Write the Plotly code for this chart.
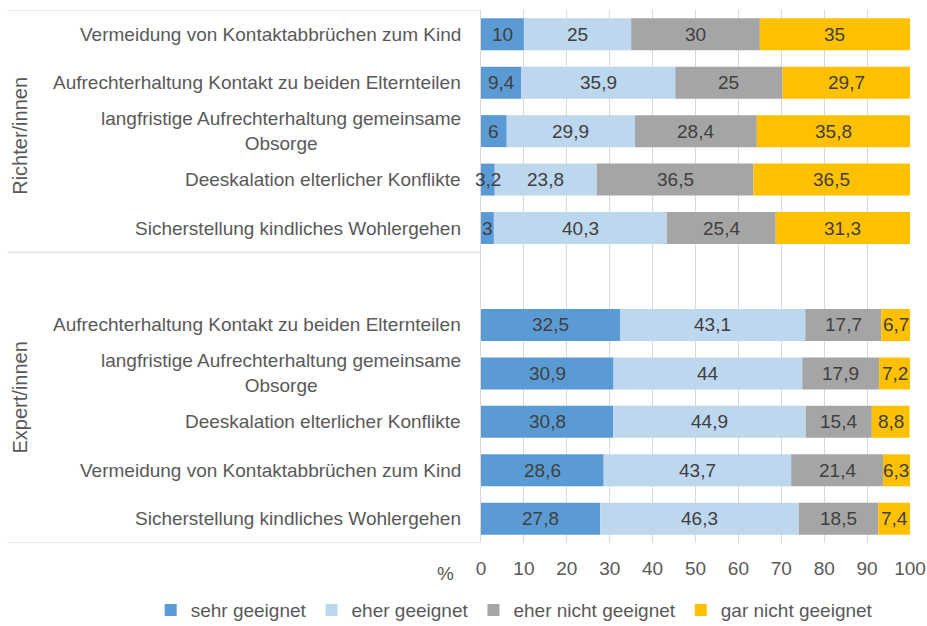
import plotly.graph_objects as go

series_names = ["sehr geeignet", "eher geeignet", "eher nicht geeignet", "gar nicht geeignet"]
series_colors = ["#5b9bd5", "#bdd7ee", "#a5a5a5", "#ffc000"]

group_names = ["Richter/innen", "Expert/innen"]

richter_items = [
    "Vermeidung von Kontaktabbrüchen zum Kind",
    "Aufrechterhaltung Kontakt zu beiden Elternteilen",
    "langfristige Aufrechterhaltung gemeinsame<br>Obsorge",
    "Deeskalation elterlicher Konflikte",
    "Sicherstellung kindliches Wohlergehen",
]
richter_sehr = [10, 9.4, 6, 3.2, 3]
richter_eher = [25, 35.9, 29.9, 23.8, 40.3]
richter_ehernicht = [30, 25, 28.4, 36.5, 25.4]
richter_gar = [35, 29.7, 35.8, 36.5, 31.3]

expert_items = [
    "Aufrechterhaltung Kontakt zu beiden Elternteilen",
    "langfristige Aufrechterhaltung gemeinsame<br>Obsorge",
    "Deeskalation elterlicher Konflikte",
    "Vermeidung von Kontaktabbrüchen zum Kind",
    "Sicherstellung kindliches Wohlergehen",
]
expert_sehr = [32.5, 30.9, 30.8, 28.6, 27.8]
expert_eher = [43.1, 44, 44.9, 43.7, 46.3]
expert_ehernicht = [17.7, 17.9, 15.4, 21.4, 18.5]
expert_gar = [6.7, 7.2, 8.8, 6.3, 7.4]

x_ticks = [0, 10, 20, 30, 40, 50, 60, 70, 80, 90, 100]

FONT = "Liberation Sans, Arial, sans-serif"
TXT = "#595959"
LBL = "#404040"

# slot positions: richter 0..4, blank 5, expert 6..10
richter_pos = list(range(len(richter_items)))
expert_pos = [len(richter_items) + 1 + i for i in range(len(expert_items))]

def fmt(v):
    return f"{v:g}".replace(".", ",")

fig = go.Figure()
series_vals = [
    richter_sehr + expert_sehr,
    richter_eher + expert_eher,
    richter_ehernicht + expert_ehernicht,
    richter_gar + expert_gar,
]
ypos = richter_pos + expert_pos
annotations = []
base = [0.0] * len(ypos)
for name, color, vals in zip(series_names, series_colors, series_vals):
    fig.add_trace(go.Bar(
        name=name, x=vals, y=ypos, base=list(base), orientation="h",
        marker=dict(color=color, line=dict(width=0)),
        cliponaxis=False, hoverinfo="x+name",
    ))
    for i, (v, p) in enumerate(zip(vals, ypos)):
        annotations.append(dict(
            text=fmt(v), x=base[i] + v / 2, xref="x", y=p, yref="y",
            xanchor="center", yanchor="middle", showarrow=False,
            font=dict(family=FONT, size=19, color=LBL),
        ))
        base[i] += v

for items, pos in ((richter_items, richter_pos), (expert_items, expert_pos)):
    for lab, p in zip(items, pos):
        annotations.append(dict(
            text=lab, x=0, xref="paper", y=p, yref="y", xanchor="right",
            yanchor="middle", xshift=-18, align="center", showarrow=False,
            font=dict(family=FONT, size=19, color=TXT),
        ))

# group label centres (the lower group band includes the blank slot)
group_centers = [(richter_pos[0] + richter_pos[-1]) / 2 + 0.1,
                 (expert_pos[0] - 1 + expert_pos[-1]) / 2]
for g, c in zip(group_names, group_centers):
    annotations.append(dict(
        text=g, x=-1.075, xref="paper", y=c, yref="y", textangle=-90,
        xanchor="center", yanchor="middle", showarrow=False,
        font=dict(family=FONT, size=20, color=TXT),
    ))

annotations.append(dict(
    text="%", x=-0.082, xref="paper", y=-0.057, yref="paper", xanchor="center",
    yanchor="middle", showarrow=False, font=dict(family=FONT, size=19, color=TXT),
))

shapes = []
for yb in (richter_pos[0] - 0.5, richter_pos[-1] + 0.5, expert_pos[-1] + 0.5):
    shapes.append(dict(type="line", xref="paper", yref="y", x0=-1.103, x1=0,
                       y0=yb, y1=yb, line=dict(color="#d9d9d9", width=1)))

fig.update_layout(
    width=927, height=626,
    margin=dict(l=481, r=17, t=10, b=83, autoexpand=False),
    paper_bgcolor="white", plot_bgcolor="white",
    barmode="overlay", bargap=0.34,
    font=dict(family=FONT, size=19, color=TXT),
    xaxis=dict(range=[0, 100], tickvals=x_ticks, showgrid=True,
               gridcolor="#d9d9d9", gridwidth=1, zeroline=False,
               showline=False, ticks="", ticklabelstandoff=12,
               tickfont=dict(size=19, color=TXT), fixedrange=True),
    yaxis=dict(range=[expert_pos[-1] + 0.5, richter_pos[0] - 0.5],
               showticklabels=False, showgrid=False, zeroline=False,
               showline=True, linecolor="#d9d9d9", layer="below traces", ticks=""),
    legend=dict(orientation="h", x=-0.77, xanchor="left", y=-0.126,
                yanchor="middle", font=dict(size=19, color=TXT),
                itemclick=False, traceorder="normal", tracegroupgap=0),
    annotations=annotations,
    shapes=shapes,
    showlegend=True,
)

fig.write_html("out.html", config={"displayModeBar": False},
               post_script="document.body.style.margin='0';document.body.style.padding='0';")
